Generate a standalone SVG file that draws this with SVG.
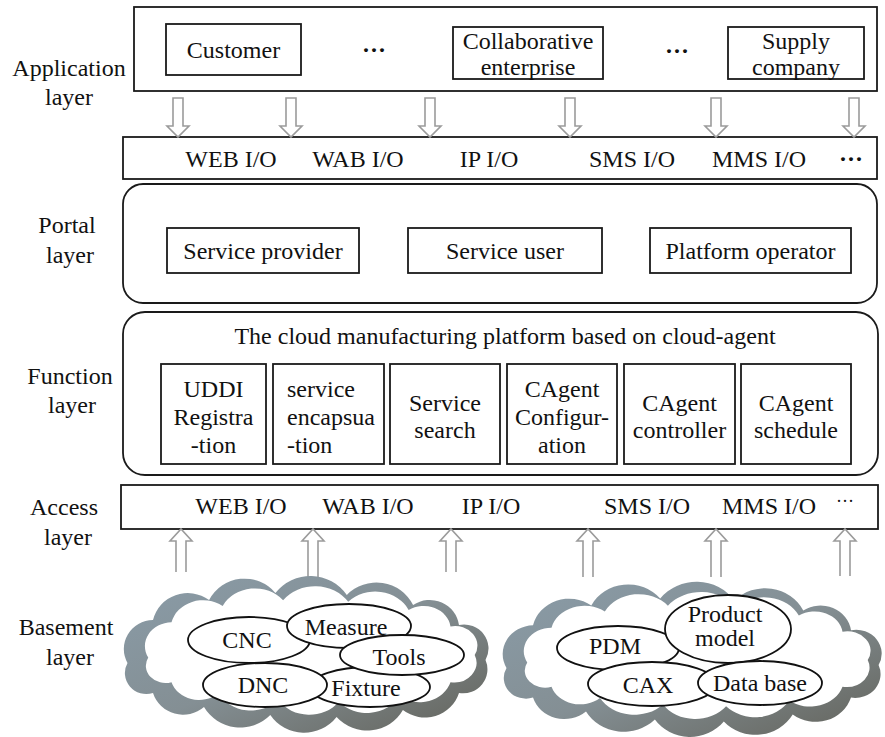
<svg xmlns="http://www.w3.org/2000/svg" xmlns:xlink="http://www.w3.org/1999/xlink" width="885" height="737" viewBox="0 0 885 737">
  <style>
    .box { fill: #fff; stroke: #1a1a1a; stroke-width: 1.8; }
    .ell { fill: #fff; stroke: #111; stroke-width: 1.8; }
    .arr { fill: #fff; stroke: #9b9b9b; stroke-width: 1.6; stroke-linejoin: miter; }
    .t { font-family: "Liberation Serif", "Times New Roman", serif; font-size: 24px; fill: #111; text-anchor: middle; dominant-baseline: central; }
    .ts { text-anchor: start; }
    .dots { font-weight: bold; }
  </style>
  <defs>
    <linearGradient id="cloudShade" x1="0" y1="0" x2="1" y2="1">
      <stop offset="0" stop-color="#8a9ca8"/>
      <stop offset="0.5" stop-color="#848f94"/>
      <stop offset="1" stop-color="#62625a"/>
    </linearGradient>
    <!-- cloud outline, centred on the origin, about 372 x 158 -->
    <path id="cloud" d="M -175,8 A 29 29 0 0 1 -150,-35 A 35 35 0 0 1 -95,-55 A 39 39 0 0 1 -30,-62 A 43 43 0 0 1 40,-60 A 40 40 0 0 1 105,-50 A 29 29 0 0 1 150,-30 A 24 24 0 0 1 176,5 A 24 24 0 0 1 150,38 A 35 35 0 0 1 95,55 A 40 40 0 0 1 30,62 A 40 40 0 0 1 -35,60 A 41 41 0 0 1 -100,52 A 31 31 0 0 1 -150,38 A 21 21 0 0 1 -175,8 Z"/>
  </defs>

  <rect width="885" height="737" fill="#fff"/>

  <!-- layer captions -->
  <g id="layer-labels">
    <text class="t" x="69" y="68">Application</text>
    <text class="t" x="69" y="97">layer</text>
    <text class="t" x="67" y="225">Portal</text>
    <text class="t" x="70" y="255">layer</text>
    <text class="t" x="70" y="376">Function</text>
    <text class="t" x="72" y="405">layer</text>
    <text class="t" x="64" y="507">Access</text>
    <text class="t" x="68" y="537">layer</text>
    <text class="t" x="66" y="627">Basement</text>
    <text class="t" x="70" y="657">layer</text>
  </g>

  <!-- application layer -->
  <g id="application-layer">
    <rect class="box" x="134" y="7" width="743" height="84"/>
    <g id="customer">
      <rect class="box" x="166" y="24" width="135" height="51"/>
      <text class="t" x="233.5" y="50">Customer</text>
    </g>
    <text class="t dots" x="374" y="50">···</text>
    <g id="collaborative-enterprise">
      <rect class="box" x="453" y="27" width="150" height="52"/>
      <text class="t" x="528" y="41">Collaborative</text>
      <text class="t" x="528" y="67">enterprise</text>
    </g>
    <text class="t dots" x="677" y="51">···</text>
    <g id="supply-company">
      <rect class="box" x="728" y="27" width="136" height="52"/>
      <text class="t" x="796" y="41">Supply</text>
      <text class="t" x="796" y="67">company</text>
    </g>
  </g>

  <!-- upper I/O bar -->
  <g id="upper-io">
    <rect class="box" x="123" y="137" width="754" height="42"/>
    <text class="t" x="231" y="159">WEB I/O</text>
    <text class="t" x="358" y="159">WAB I/O</text>
    <text class="t" x="489" y="159">IP I/O</text>
    <text class="t" x="632" y="159">SMS I/O</text>
    <text class="t" x="759" y="159">MMS I/O</text>
    <text class="t dots" x="851" y="159">···</text>
  </g>

  <!-- portal layer -->
  <g id="portal-layer">
    <rect class="box" x="123" y="184" width="754" height="119" rx="20" ry="20"/>
    <g id="service-provider">
      <rect class="box" x="167" y="228" width="192" height="45"/>
      <text class="t" x="263" y="251">Service provider</text>
    </g>
    <g id="service-user">
      <rect class="box" x="408" y="228" width="194" height="45"/>
      <text class="t" x="505" y="251">Service user</text>
    </g>
    <g id="platform-operator">
      <rect class="box" x="650" y="228" width="201" height="45"/>
      <text class="t" x="750.5" y="251">Platform operator</text>
    </g>
  </g>

  <!-- function layer -->
  <g id="function-layer">
    <rect class="box" x="123" y="312" width="755" height="163" rx="22" ry="22"/>
    <text class="t" x="505" y="336">The cloud manufacturing platform based on cloud-agent</text>
    <g id="uddi-registration">
      <rect class="box" x="161" y="364" width="105" height="100"/>
      <text class="t" x="213.5" y="389">UDDI</text>
      <text class="t" x="213.5" y="417">Registra</text>
      <text class="t" x="213.5" y="445">-tion</text>
    </g>
    <g id="service-encapsulation">
      <rect class="box" x="273" y="364" width="111" height="100"/>
      <text class="t ts" x="287" y="389">service</text>
      <text class="t ts" x="287" y="417">encapsua</text>
      <text class="t ts" x="287" y="445">-tion</text>
    </g>
    <g id="service-search">
      <rect class="box" x="390" y="364" width="110" height="100"/>
      <text class="t" x="445" y="403">Service</text>
      <text class="t" x="445" y="430">search</text>
    </g>
    <g id="cagent-configuration">
      <rect class="box" x="507" y="364" width="110" height="100"/>
      <text class="t" x="562" y="389">CAgent</text>
      <text class="t" x="562" y="417">Configur-</text>
      <text class="t" x="562" y="445">ation</text>
    </g>
    <g id="cagent-controller">
      <rect class="box" x="624" y="364" width="111" height="100"/>
      <text class="t" x="679.5" y="403">CAgent</text>
      <text class="t" x="679.5" y="430">controller</text>
    </g>
    <g id="cagent-schedule">
      <rect class="box" x="741" y="364" width="110" height="100"/>
      <text class="t" x="796" y="403">CAgent</text>
      <text class="t" x="796" y="430">schedule</text>
    </g>
  </g>

  <!-- access layer bar -->
  <g id="access-layer">
    <rect class="box" x="121" y="485" width="757" height="44"/>
    <text class="t" x="241" y="506">WEB I/O</text>
    <text class="t" x="368" y="506">WAB I/O</text>
    <text class="t" x="491" y="506">IP I/O</text>
    <text class="t" x="647" y="506">SMS I/O</text>
    <text class="t" x="769" y="506">MMS I/O</text>
    <text class="t" x="845" y="501" style="font-size:18px">···</text>
  </g>

  <!-- hollow block arrows between layers -->
  <g id="connectors">
    <path class="arr" d="M173,98 H183 V126 H189 L178,137 L167,126 H173 Z"/>
    <path class="arr" d="M286,98 H296 V126 H302 L291,137 L280,126 H286 Z"/>
    <path class="arr" d="M425,98 H435 V126 H441 L430,137 L419,126 H425 Z"/>
    <path class="arr" d="M565,98 H575 V126 H581 L570,137 L559,126 H565 Z"/>
    <path class="arr" d="M711,98 H721 V126 H727 L716,137 L705,126 H711 Z"/>
    <path class="arr" d="M849,98 H859 V126 H865 L854,137 L843,126 H849 Z"/>

    <path class="arr" d="M176,572 V541 H170 L181,529 L192,541 H186 V572"/>
    <path class="arr" d="M308,577 V541 H302 L313,529 L324,541 H318 V577"/>
    <path class="arr" d="M446,572 V541 H440 L451,529 L462,541 H456 V572"/>
    <path class="arr" d="M583,577 V541 H577 L588,529 L599,541 H593 V577"/>
    <path class="arr" d="M711,577 V541 H705 L716,529 L727,541 H721 V577"/>
    <path class="arr" d="M840,576 V541 H834 L845,529 L856,541 H850 V576"/>
  </g>

  <!-- basement: manufacturing resources cloud -->
  <g id="resource-cloud">
    <use xlink:href="#cloud" fill="url(#cloudShade)" transform="translate(306,655) scale(1.02,1.0)"/>
    <use xlink:href="#cloud" fill="#fff" transform="translate(311,651) scale(0.93,0.82)"/>
    <g id="cnc">
      <ellipse class="ell" cx="249" cy="640" rx="61" ry="23"/>
      <text class="t" x="247" y="640">CNC</text>
    </g>
    <g id="measure">
      <ellipse class="ell" cx="349" cy="626" rx="62" ry="22"/>
      <text class="t" x="346" y="627">Measure</text>
    </g>
    <g id="fixture">
      <ellipse class="ell" cx="370" cy="687" rx="60" ry="20"/>
      <text class="t" x="366" y="688">Fixture</text>
    </g>
    <g id="tools">
      <ellipse class="ell" cx="402" cy="655" rx="62" ry="20"/>
      <text class="t" x="399" y="657">Tools</text>
    </g>
    <g id="dnc">
      <ellipse class="ell" cx="265" cy="685" rx="62" ry="22"/>
      <text class="t" x="263" y="685">DNC</text>
    </g>
  </g>

  <!-- basement: data resources cloud -->
  <g id="data-cloud">
    <use xlink:href="#cloud" fill="url(#cloudShade)" transform="translate(692,660) scale(1.06,0.99)"/>
    <use xlink:href="#cloud" fill="#fff" transform="translate(697,656) scale(0.97,0.81)"/>
    <g id="pdm">
      <ellipse class="ell" cx="618" cy="648" rx="61" ry="22"/>
      <text class="t" x="615" y="646">PDM</text>
    </g>
    <g id="product-model">
      <ellipse class="ell" cx="728" cy="629" rx="63" ry="34"/>
      <text class="t" x="725" y="614">Product</text>
      <text class="t" x="725" y="638">model</text>
    </g>
    <g id="cax">
      <ellipse class="ell" cx="652" cy="684" rx="64" ry="22"/>
      <text class="t" x="648" y="685">CAX</text>
    </g>
    <g id="data-base">
      <ellipse class="ell" cx="760" cy="683" rx="62" ry="22"/>
      <text class="t" x="760" y="683">Data base</text>
    </g>
  </g>
</svg>
